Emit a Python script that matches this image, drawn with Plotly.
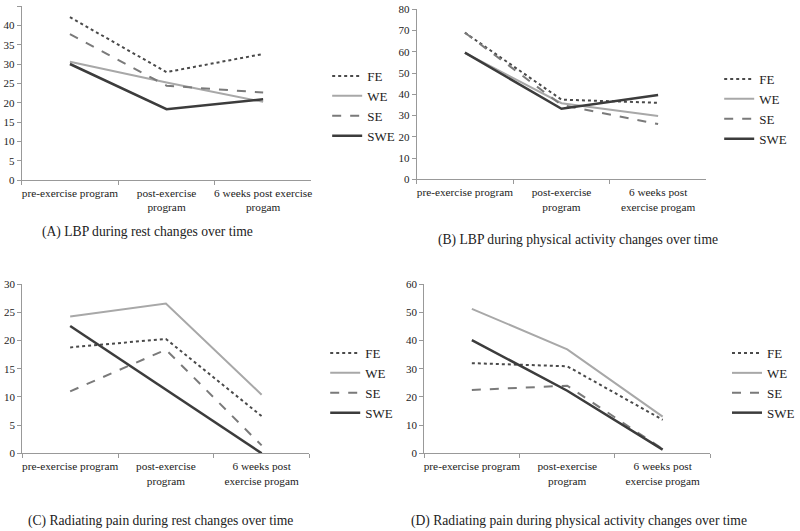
import plotly.graph_objects as go

cats = ["pre", "post", "6w"]
labels_a = ["pre-exercise program", "post-exercise<br>program", "6 weeks post exercise<br>progam"]
labels_bcd = ["pre-exercise program", "post-exercise<br>program", "6 weeks post<br>exercise progam"]
series_names = ["FE", "WE", "SE", "SWE"]

# (A) LBP during rest
a_fe = [42.1, 27.9, 32.6]
a_we = [30.6, 25.2, 20.2]
a_se = [37.7, 24.4, 22.6]
a_swe = [30.0, 18.3, 20.9]
# (B) LBP during physical activity
b_fe = [69.0, 37.5, 36.0]
b_we = [59.5, 35.8, 29.8]
b_se = [69.0, 35.0, 26.0]
b_swe = [59.6, 33.2, 39.7]
# (C) Radiating pain during rest
c_fe = [18.8, 20.3, 6.6]
c_we = [24.3, 26.6, 10.4]
c_se = [11.0, 18.4, 1.4]
c_swe = [22.6, 11.3, 0.0]
# (D) Radiating pain during physical activity
d_fe = [32.0, 30.9, 11.9]
d_we = [51.3, 36.9, 13.0]
d_se = [22.5, 24.0, 1.5]
d_swe = [40.2, 22.2, 1.3]

captions = [
    "(A) LBP during rest changes over time",
    "(B) LBP during physical activity changes over time",
    "(C) Radiating pain during rest changes over time",
    "(D) Radiating pain during physical activity changes over time",
]

styles = {
    "FE": dict(color="#4a4a4a", width=2, dash="dot"),
    "WE": dict(color="#a8a8a8", width=2, dash="solid"),
    "SE": dict(color="#7a7a7a", width=2, dash="dash"),
    "SWE": dict(color="#3c3c3c", width=2.5, dash="solid"),
}

FONT = "Liberation Serif, Times New Roman, serif"
W, H = 800, 531
def px_x(p): return p / W
def px_y(p): return 1 - p / H

panels = [
    dict(data=[a_fe, a_we, a_se, a_swe], labels=labels_a, xd=(22, 317), yd=(180, 6), rng=45, dt=5,
         leg=(333, 61), cap=(150, 232)),
    dict(data=[b_fe, b_we, b_se, b_swe], labels=labels_bcd, xd=(424, 719), yd=(179.3, 9.3), rng=80, dt=10,
         leg=(732, 64), cap=(588, 240)),
    dict(data=[c_fe, c_we, c_se, c_swe], labels=labels_bcd, xd=(22.7, 315), yd=(453.3, 284.3), rng=30, dt=5,
         leg=(331, 338), cap=(163, 521)),
    dict(data=[d_fe, d_we, d_se, d_swe], labels=labels_bcd, xd=(431.7, 723), yd=(453.3, 284.3), rng=60, dt=10,
         leg=(740, 338), cap=(589, 521)),
]

fig = go.Figure()
layout = dict(width=W, height=H, margin=dict(l=0, r=0, t=0, b=0),
              paper_bgcolor="white", plot_bgcolor="white",
              font=dict(family=FONT, size=11, color="#222"),
              annotations=[])

for i, p in enumerate(panels):
    n = "" if i == 0 else str(i + 1)
    legname = "legend" + n
    for name, vals in zip(series_names, p["data"]):
        fig.add_trace(go.Scatter(x=cats, y=vals, mode="lines", name=name,
                                 line=styles[name], xaxis="x" + n, yaxis="y" + n,
                                 legend=legname, showlegend=True))
    layout["xaxis" + n] = dict(domain=[px_x(p["xd"][0]), px_x(p["xd"][1])], anchor="y" + n,
                               type="category", range=[-0.5, 2.5], tickmode="array",
                               tickvals=cats, ticktext=p["labels"], tickson="boundaries",
                               tickangle=0, automargin=False, ticklabelstandoff=2,
                               ticks="outside", ticklen=4, tickcolor="#999", showline=True,
                               linecolor="#999", linewidth=1, showgrid=False, zeroline=False,
                               tickfont=dict(family=FONT, size=11.3, color="#222"))
    layout["yaxis" + n] = dict(domain=[px_y(p["yd"][0]), px_y(p["yd"][1])], anchor="x" + n,
                               range=[0, p["rng"]], dtick=p["dt"], tick0=0, ticks="outside",
                               automargin=False,
                               ticklen=4, tickcolor="#999", showline=True, linecolor="#999",
                               linewidth=1, showgrid=False, zeroline=False,
                               tickfont=dict(family=FONT, size=11, color="#222"))
    layout[legname] = dict(x=px_x(p["leg"][0]), y=px_y(p["leg"][1]), xanchor="left", yanchor="top",
                           xref="paper", yref="paper", bgcolor="rgba(0,0,0,0)",
                           font=dict(family=FONT, size=13, color="#222"),
                           tracegroupgap=0, itemwidth=30)
    layout["annotations"].append(dict(text=captions[i], x=px_x(p["cap"][0]), y=px_y(p["cap"][1]),
                                      xref="paper", yref="paper", showarrow=False,
                                      xanchor="center", yanchor="middle",
                                      font=dict(family=FONT, size=13.6, color="#222")))

fig.update_layout(**layout)
fig.write_html("out.html", config={"displayModeBar": False},
               post_script="document.body.style.margin='0';document.body.style.padding='0';")
